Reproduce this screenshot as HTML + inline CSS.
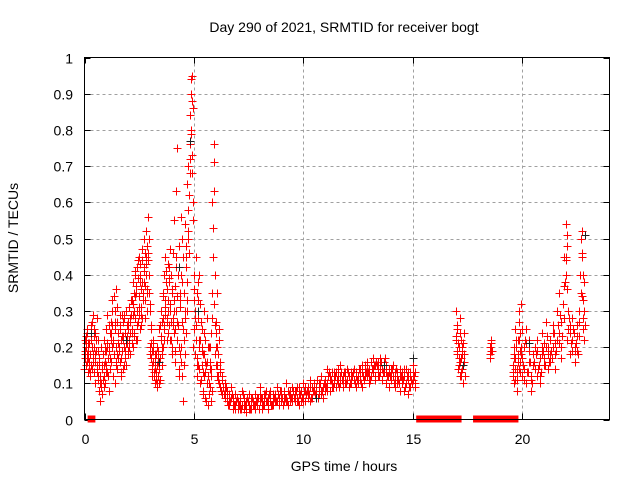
<!DOCTYPE html>
<html><head><meta charset="utf-8"><style>
body{margin:0;background:#fff}
svg{display:block;font-family:"Liberation Sans",sans-serif}
</style></head><body>
<svg id="chart" width="640" height="480" viewBox="0 0 640 480">
<rect width="640" height="480" fill="#fff"/>
<text x="344" y="32" text-anchor="middle" font-size="14">Day 290 of 2021, SRMTID for receiver bogt</text>
<text x="344" y="471" text-anchor="middle" font-size="14">GPS time / hours</text>
<text transform="translate(18,238) rotate(-90)" text-anchor="middle" font-size="14">SRMTID / TECUs</text>
<g id="grid"></g>
<g id="axes"></g>
<g id="marks"></g>
<rect x="84.5" y="57.5" width="525" height="362" fill="none" stroke="#000"/>
</svg>
<script>
const xTicks=[0,5,10,15,20];
const yTicks=[0,0.1,0.2,0.3,0.4,0.5,0.6,0.7,0.8,0.9,1];
const yTickLabels=["0","0.1","0.2","0.3","0.4","0.5","0.6","0.7","0.8","0.9","1"];
const times=[0.0,0.05,0.1,0.15,0.2,0.25,0.3,0.35,0.4,0.45,0.5,0.55,0.6,0.65,0.7,0.75,0.8,0.85,0.9,0.95,1.0,1.05,1.1,1.15,1.2,1.25,1.3,1.35,1.4,1.45,1.5,1.55,1.6,1.65,1.7,1.75,1.8,1.85,1.9,1.95,2.0,2.05,2.1,2.15,2.2,2.25,2.3,2.35,2.4,2.45,2.5,2.55,2.6,2.65,2.7,2.75,2.8,2.85,2.9,2.95,3.0,3.05,3.1,3.15,3.2,3.25,3.3,3.35,3.4,3.45,3.5,3.55,3.6,3.65,3.7,3.75,3.8,3.85,3.9,3.95,4.0,4.05,4.1,4.15,4.2,4.25,4.3,4.35,4.4,4.45,4.5,4.55,4.6,4.65,4.7,4.75,4.8,4.85,4.9,4.95,5.0,5.05,5.1,5.15,5.2,5.25,5.3,5.35,5.4,5.45,5.5,5.55,5.6,5.65,5.7,5.75,5.8,5.85,5.9,5.95,6.0,6.05,6.1,6.15,6.2,6.3,6.4,6.5,6.6,6.7,6.8,6.9,7.0,7.1,7.2,7.3,7.4,7.5,7.6,7.7,7.8,7.9,8.0,8.1,8.2,8.3,8.4,8.5,8.6,8.7,8.8,8.9,9.0,9.1,9.2,9.3,9.4,9.5,9.6,9.7,9.8,9.9,10.0,10.1,10.2,10.3,10.4,10.5,10.6,10.7,10.8,10.9,11.0,11.1,11.2,11.3,11.4,11.5,11.6,11.7,11.8,11.9,12.0,12.1,12.2,12.3,12.4,12.5,12.6,12.7,12.8,12.9,13.0,13.1,13.2,13.3,13.4,13.5,13.6,13.7,13.8,13.9,14.0,14.1,14.2,14.3,14.4,14.5,14.6,14.7,14.8,14.9,15.0,15.1,17.0,17.05,17.1,17.15,17.2,17.25,17.3,17.35,18.55,18.6,19.6,19.65,19.7,19.75,19.8,19.85,19.9,19.95,20.0,20.1,20.2,20.3,20.4,20.5,20.6,20.7,20.8,20.9,21.0,21.1,21.2,21.3,21.4,21.5,21.6,21.7,21.8,21.9,22.0,22.05,22.1,22.2,22.3,22.4,22.5,22.6,22.7,22.75,22.8,22.85];
const valuesA=[.17,.15,.25,.19,.21,.12,.15,.27,.29,.13,.24,.28,.11,.08,.12,.09,.14,.18,.22,.16,.19,.13,.20,.17,.27,.30,.22,.34,.25,.36,.18,.21,.16,.22,.19,.14,.28,.24,.15,.21,.25,.31,.18,.24,.29,.35,.41,.22,.42,.27,.34,.25,.31,.44,.38,.46,.52,.48,.56,.40,.20,.17,.12,.16,.10,.13,.09,.19,.14,.17,.22,.27,.34,.40,.29,.36,.43,.38,.32,.27,.20,.28,.24,.16,.30,.22,.12,.35,.40,.50,.05,.15,.30,.42,.65,.70,.76,.90,.95,.86,.40,.30,.22,.35,.15,.40,.10,.25,.18,.30,.06,.15,.28,.12,.20,.09,.24,.60,.76,.26,.15,.35,.12,.22,.16,.12,.10,.08,.07,.06,.05,.04,.05,.06,.04,.03,.05,.04,.06,.05,.07,.04,.05,.06,.04,.08,.05,.06,.04,.07,.05,.06,.08,.05,.06,.08,.07,.06,.05,.09,.07,.05,.06,.08,.07,.05,.09,.08,.06,.10,.08,.09,.11,.10,.12,.09,.11,.13,.10,.12,.09,.13,.11,.12,.10,.14,.09,.12,.11,.13,.15,.12,.14,.16,.13,.15,.12,.17,.14,.16,.10,.13,.11,.15,.09,.12,.14,.11,.08,.10,.13,.09,.11,.10,.30,.25,.20,.28,.17,.14,.21,.16,.20,.22,.15,.20,.25,.13,.18,.30,.16,.32,.12,.20,.25,.16,.12,.18,.14,.22,.10,.18,.15,.20,.14,.22,.26,.18,.30,.24,.20,.28,.54,.48,.25,.18,.22,.16,.26,.30,.35,.52,.28,.38];
const valuesB=[.22,.20,.18,.13,.16,.18,.22,.14,.18,.20,.10,.15,.19,.17,.05,.20,.07,.11,.15,.10,.25,.29,.08,.24,.16,.20,.12,.18,.10,.20,.14,.24,.26,.12,.29,.23,.20,.17,.30,.26,.19,.22,.27,.33,.20,.24,.28,.37,.30,.39,.45,.40,.36,.28,.50,.33,.40,.30,.44,.35,.32,.26,.19,.22,.14,.18,.15,.12,.25,.11,.30,.15,.20,.25,.45,.22,.30,.26,.47,.40,.35,.46,.55,.37,.63,.75,.48,.18,.56,.27,.45,.35,.54,.24,.38,.58,.84,.94,.73,.60,.25,.18,.45,.12,.28,.20,.32,.15,.08,.12,.22,.05,.10,.04,.07,.16,.05,.35,.63,.40,.27,.20,.18,.10,.09,.07,.06,.05,.04,.09,.03,.07,.03,.03,.08,.06,.02,.07,.03,.04,.03,.06,.09,.03,.07,.05,.03,.08,.07,.05,.09,.04,.05,.07,.10,.04,.05,.09,.08,.06,.04,.08,.10,.05,.09,.11,.06,.10,.09,.07,.12,.06,.08,.14,.08,.13,.10,.09,.12,.15,.11,.10,.14,.09,.13,.11,.12,.10,.14,.09,.12,.16,.10,.12,.17,.11,.16,.13,.11,.13,.15,.09,.14,.12,.13,.10,.08,.13,.12,.14,.07,.12,.15,.13,.22,.18,.15,.12,.22,.19,.10,.24,.18,.19,.12,.10,.17,.08,.22,.14,.24,.20,.17,.14,.10,.22,.08,.15,.20,.12,.17,.24,.21,.27,.18,.16,.20,.14,.22,.35,.17,.45,.40,.36,.30,.24,.28,.20,.19,.23,.50,.45,.33,.22];
const valuesC=[.19,.23,.16,.21,.14,.26,.20,.17,.23,.16,.19,.13,.22,.15,.10,.14,.18,.09,.19,.13,.21,.17,.26,.14,.22,.33,.18,.27,.16,.31,.24,.19,.29,.17,.23,.27,.15,.21,.26,.18,.22,.28,.33,.21,.38,.30,.34,.26,.44,.31,.38,.29,.47,.35,.42,.37,.45,.35,.50,.30,.25,.15,.21,.13,.18,.11,.20,.16,.10,.23,.18,.35,.26,.31,.38,.27,.24,.42,.22,.36,.26,.33,.19,.42,.27,.40,.20,.31,.16,.38,.22,.28,.45,.33,.50,.46,.68,.79,.88,.55,.33,.26,.15,.38,.22,.10,.27,.19,.13,.24,.16,.10,.20,.07,.14,.12,.08,.45,.71,.18,.20,.12,.25,.14,.08,.09,.08,.06,.05,.07,.04,.05,.04,.05,.07,.04,.06,.03,.05,.04,.05,.06,.07,.04,.06,.05,.07,.04,.06,.05,.07,.08,.06,.08,.05,.07,.06,.08,.07,.05,.09,.06,.08,.07,.06,.09,.08,.07,.11,.09,.07,.10,.09,.12,.11,.10,.13,.11,.09,.13,.12,.11,.13,.10,.12,.11,.13,.14,.10,.12,.13,.14,.12,.14,.15,.16,.14,.15,.13,.17,.12,.14,.13,.10,.14,.11,.12,.10,.14,.12,.09,.11,.13,.09,.26,.21,.17,.24,.13,.20,.18,.12,.21,.19,.18,.14,.22,.11,.16,.27,.19,.25,.15,.22,.13,.19,.11,.16,.18,.14,.12,.20,.17,.23,.16,.19,.24,.21,.26,.29,.23,.37,.44,.51,.28,.21,.25,.19,.23,.27,.46,.40,.30,.26];
const valuesD=[.14,.18,.21,.24,.17,.15,.13,.20,.16,.25,.18,.22,.14,.12,.16,.11,.10,.15,.12,.20,.15,.20,.12,.19,.14,.24,.26,.21,.30,.15,.27,.17,.20,.25,.13,.19,.22,.29,.19,.23,.27,.20,.24,.29,.25,.32,.23,.40,.35,.22,.29,.43,.26,.38,.33,.41,.28,.43,.36,.46,.18,.21,.14,.19,.12,.16,.13,.10,.17,.14,.26,.20,.28,.22,.33,.41,.28,.33,.39,.30,.22,.18,.30,.25,.45,.34,.26,.14,.33,.20,.12,.25,.18,.48,.30,.52,.62,.72,.80,.68,.20,.36,.28,.17,.33,.14,.22,.11,.20,.07,.18,.13,.05,.16,.10,.20,.14,.28,.53,.32,.18,.24,.15,.11,.13,.11,.07,.09,.04,.05,.06,.03,.06,.04,.03,.05,.04,.05,.03,.06,.04,.05,.03,.06,.04,.07,.06,.05,.04,.06,.05,.04,.07,.04,.06,.05,.08,.05,.06,.08,.05,.07,.05,.09,.08,.07,.06,.09,.08,.06,.10,.08,.10,.08,.13,.11,.09,.12,.14,.10,.11,.13,.10,.12,.11,.13,.10,.11,.12,.15,.11,.13,.13,.11,.14,.12,.15,.12,.16,.14,.13,.12,.12,.14,.11,.13,.10,.12,.11,.09,.11,.13,.10,.12,.23,.19,.14,.20,.16,.12,.18,.15,.17,.21,.13,.17,.11,.20,.14,.18,.22,.13,.18,.11,.21,.13,.16,.10,.14,.19,.15,.13,.19,.15,.20,.18,.17,.24,.19,.21,.27,.32,.38,.45,.22,.26,.19,.24,.21,.18,.40,.34,.25,.30];
const blackTimes=[0.3,1.9,3.4,4.3,4.8,5.2,10.6,13.7,15.0,17.3,20.3,22.9];
const blackValues=[.24,.22,.16,.42,.77,.30,.06,.15,.17,.15,.21,.51];
const zeroStarts=[0.28,15.3,17.9,18.65];
const zeroEnds=[0.36,17.1,18.5,19.7];

const X0=84.5,X1=609.5,Y0=419.5,Y1=57.5,XMAX=24;
function xs(t){return X0+(t/XMAX)*(X1-X0);}
function ys(v){return Y0-v*(Y0-Y1);}
const NS="http://www.w3.org/2000/svg";
function mk(tag,attrs,parent){const e=document.createElementNS(NS,tag);for(const k in attrs)e.setAttribute(k,attrs[k]);parent.appendChild(e);return e;}
const grid=document.getElementById('grid'),axes=document.getElementById('axes'),marks=document.getElementById('marks');
yTicks.forEach((v,i)=>{
  const y=Math.round(ys(v))+0.5;
  if(v>0&&v<1){const g=mk('line',{x1:X0,x2:X1,y1:y,y2:y,stroke:'#a0a0a0','stroke-dasharray':'3,3'},grid);
  
  }
  const t1=mk('line',{x1:X0,x2:X0+6,y1:y,y2:y,stroke:'#000'},axes);
  
  
  const t2=mk('line',{x1:X1-6,x2:X1,y1:y,y2:y,stroke:'#000'},axes);
  
  
  const l=mk('text',{x:73,y:y+5,'text-anchor':'end','font-size':14},axes);l.textContent=yTickLabels[i];
  
  
});
xTicks.forEach(t=>{
  const x=Math.round(xs(t))+0.5;
  if(t>0){const g=mk('line',{x1:x,x2:x,y1:Y1,y2:Y0,stroke:'#a0a0a0','stroke-dasharray':'3,3'},grid);
  
  }
  const t1=mk('line',{x1:x,x2:x,y1:Y0-6,y2:Y0,stroke:'#000'},axes);
  
  
  const t2=mk('line',{x1:x,x2:x,y1:Y1,y2:Y1+6,stroke:'#000'},axes);
  
  
  const l=mk('text',{x:x,y:444,'text-anchor':'middle','font-size':14},axes);l.textContent=String(t);
  
  
});
function plus(t,v,col,dx){
  if(v==null)return;
  const x=Math.round(xs(t)+dx)+0.5,y=Math.round(ys(v))+0.5;
  const p=mk('path',{d:`M${x-4} ${y}H${x+4}M${x} ${y-4}V${y+4}`,stroke:col,'stroke-width':1,fill:'none'},marks);
  
  
}
times.forEach((t,i)=>{
  plus(t,valuesA[i],'#ff0000',0);
  plus(t,valuesB[i],'#ff0000',0);
  plus(t,valuesC[i],'#ff0000',0.6);
  plus(t,valuesD[i],'#ff0000',-0.6);
});
blackTimes.forEach((t,i)=>plus(t,blackValues[i],'#202020',0));
zeroStarts.forEach((s,i)=>{
  const r=mk('rect',{x:xs(s)-3,y:ys(0)-4,width:xs(zeroEnds[i])-xs(s)+6,height:7,fill:'#ff0000'},marks);
  
  
});
</script>
</body></html>
